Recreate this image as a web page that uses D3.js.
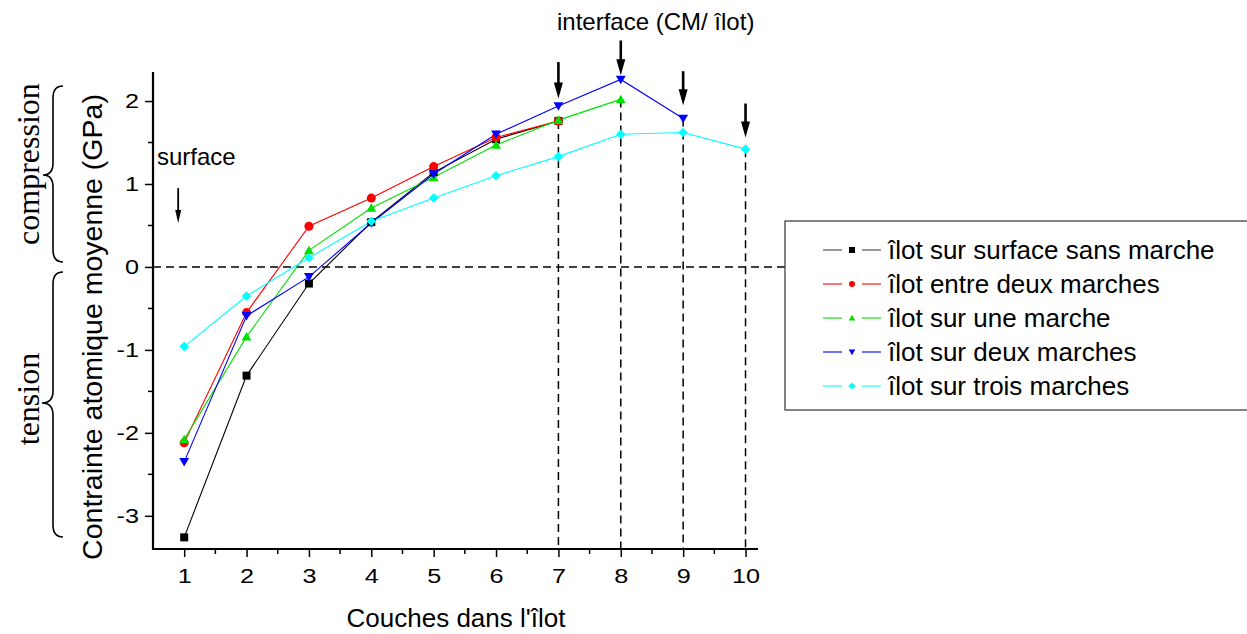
<!DOCTYPE html>
<html><head><meta charset="utf-8">
<script src="https://cdn.jsdelivr.net/npm/d3@7"></script>
<style>
html,body{margin:0;padding:0;background:#fff;}
svg{display:block;}
text{fill:#000;}
</style></head><body>
<svg id="c" width="1247" height="634"></svg>
<script>
// ---- data ----
const layers = [1,2,3,4,5,6,7,8,9,10];
const seriesNames = ["îlot sur surface sans marche","îlot entre deux marches","îlot sur une marche","îlot sur deux marches","îlot sur trois marches"];
const sansMarche   = [-3.26,-1.31,-0.20,0.54,1.14,1.54,1.76];
const entreDeux    = [-2.12,-0.55,0.49,0.83,1.21,1.56,1.76];
const uneMarche    = [-2.08,-0.84,0.20,0.71,1.08,1.47,1.77,2.02];
const deuxMarches  = [-2.35,-0.59,-0.12,0.53,1.12,1.60,1.94,2.26,1.79];
const troisMarches = [-0.96,-0.35,0.11,0.55,0.83,1.10,1.33,1.60,1.62,1.42];
const colors = ["#000000","#ff0000","#00e000","#0000ff","#00ffff"];
const symbols = ["square","circle","triangle","triangleDown","diamond"];
const yTicks = [-3,-2,-1,0,1,2];
const xTicks = [1,2,3,4,5,6,7,8,9,10];
// dashed guide lines (layer, top value)
const guideX = [7,8,9,10];
const guideTop = [1.76,2.02,1.79,1.42];
// arrows (layer, top, tip) in data units
const arrowX = [7,8,9,10];
const arrowTop = [2.47,2.73,2.36,1.97];
const arrowTip = [2.03,2.31,1.95,1.56];
const surfArrow = {x:1, top:0.95, tip:0.53};

const allSeries = [sansMarche,entreDeux,uneMarche,deuxMarches,troisMarches];

const SANS = "Liberation Sans, Arial, sans-serif";
const SERIF = "Liberation Serif, Times New Roman, serif";

const svg = d3.select("#c");
const x = d3.scaleLinear().domain([0.5,10.2]).range([153,758]);
const y = d3.scaleLinear().domain([-3.4,2.35]).range([549,72]);

// zero dashed line
svg.append("line").attr("x1",x(0.5)).attr("x2",785).attr("y1",y(0)).attr("y2",y(0))
  .attr("stroke","#000").attr("stroke-width",1.5).attr("stroke-dasharray","8,5");
// vertical guides
guideX.forEach((g,i)=>{
  svg.append("line").attr("x1",x(g)).attr("x2",x(g)).attr("y1",y(guideTop[i])).attr("y2",y(-3.4))
    .attr("stroke","#000").attr("stroke-width",1.5).attr("stroke-dasharray","8,5");
});

// axes
const fmt = d=>String(d);
const SX = 1.2;
const yAxis = d3.axisLeft(y).tickValues(yTicks).tickSize(8).tickPadding(6).tickFormat(fmt);
const gy = svg.append("g").attr("transform",`translate(${x(0.5)},0)`).call(yAxis);
const yMinor = d3.range(-3.5,2.4,1).filter(v=>v>-3.4);
gy.selectAll(".minor").data(yMinor).enter().append("line").attr("class","minor")
  .attr("x1",-5).attr("x2",0).attr("y1",d=>y(d)).attr("y2",d=>y(d)).attr("stroke","#000").attr("stroke-width",1.5);
const xAxis = d3.axisBottom(x).tickValues(xTicks).tickSize(8).tickPadding(11).tickFormat(fmt);
const gx = svg.append("g").attr("transform",`translate(0,${y(-3.4)})`).call(xAxis);
const xMinor = d3.range(1.5,10.2,1);
gx.selectAll(".minor").data(xMinor).enter().append("line").attr("class","minor")
  .attr("y1",0).attr("y2",5).attr("x1",d=>x(d)).attr("x2",d=>x(d)).attr("stroke","#000").attr("stroke-width",1.5);
[gx,gy].forEach(g=>{
  g.attr("font-family",null).attr("font-size",null);
  g.selectAll(".tick line").attr("stroke","#000").attr("stroke-width",1.5);
  g.selectAll(".tick text").style("font-size","21px").style("font-family",SANS).attr("fill","#000")
    .attr("transform",`scale(${SX},1)`);
  g.select(".domain").remove();
});
gy.selectAll(".tick text").attr("x",-14/SX);
svg.append("line").attr("x1",x(0.5)).attr("x2",x(0.5)).attr("y1",y(2.35)).attr("y2",y(-3.4)+1).attr("stroke","#000").attr("stroke-width",2.2);
svg.append("line").attr("x1",x(0.5)-1).attr("x2",x(10.2)).attr("y1",y(-3.4)).attr("y2",y(-3.4)).attr("stroke","#000").attr("stroke-width",2.2);

// symbols
function sym(type,s){
  const h=s/2;
  switch(type){
    case "square": return `M${-h},${-h}H${h}V${h}H${-h}Z`;
    case "circle": return `M${h},0A${h},${h} 0 1,1 ${-h},0A${h},${h} 0 1,1 ${h},0Z`;
    case "triangle": return `M0,${-h*1.05}L${h*1.1},${h*0.85}L${-h*1.1},${h*0.85}Z`;
    case "triangleDown": return `M0,${h*1.05}L${h*1.1},${-h*0.85}L${-h*1.1},${-h*0.85}Z`;
    case "diamond": return `M0,${-h*1.2}L${h*1.2},0L0,${h*1.2}L${-h*1.2},0Z`;
  }
}
const symSize = {square:8,circle:9,triangle:9,triangleDown:9,diamond:8};

// lines and markers
const line = d3.line().x((d,i)=>x(layers[i])).y(d=>y(d));
allSeries.forEach((s,k)=>{
  svg.append("path").datum(s).attr("d",line).attr("fill","none").attr("stroke",colors[k]).attr("stroke-width",1.1);
});
allSeries.forEach((s,k)=>{
  svg.selectAll(null).data(s).enter().append("path")
    .attr("d",sym(symbols[k],symSize[symbols[k]]))
    .attr("transform",(d,i)=>`translate(${x(layers[i])},${y(d)})`)
    .attr("fill",colors[k]);
});

// arrows
function arrow(xp,y1,y2,shaft,hw,hl){
  svg.append("line").attr("x1",xp).attr("x2",xp).attr("y1",y1).attr("y2",y2-hl+1).attr("stroke","#000").attr("stroke-width",shaft);
  svg.append("path").attr("d",`M${xp-hw/2},${y2-hl} L${xp+hw/2},${y2-hl} L${xp},${y2} Z`).attr("fill","#000");
}
arrow(x(surfArrow.x)-6, y(surfArrow.top), y(surfArrow.tip), 1.8, 6, 13);
arrowX.forEach((a,i)=>arrow(x(a), y(arrowTop[i]), y(arrowTip[i]), 2.6, 9, 16));

// annotation texts
svg.append("text").attr("x",157).attr("y",165).style("font-family",SANS).style("font-size","24px").text("surface");
svg.append("text").attr("x",557).attr("y",30).style("font-family",SANS).style("font-size","24px").text("interface (CM/ îlot)");

// axis titles
svg.append("text").attr("x",456).attr("y",627).attr("text-anchor","middle").style("font-family",SANS).style("font-size","26px").text("Couches dans l'îlot");
svg.append("text").attr("transform","translate(102,327) rotate(-90)").attr("text-anchor","middle").style("font-family",SANS).style("font-size","28.5px")
  .text("Contrainte atomique moyenne (GPa)");

// braces + serif labels
function brace(xEnd,xSpine,xTip,yTop,yBot,yTip){
  const r=12;
  const d=`M${xEnd},${yTop} Q${xSpine},${yTop} ${xSpine},${yTop+r} L${xSpine},${yTip-r} Q${xSpine},${yTip} ${xTip},${yTip} Q${xSpine},${yTip} ${xSpine},${yTip+r} L${xSpine},${yBot-r} Q${xSpine},${yBot} ${xEnd},${yBot}`;
  svg.append("path").attr("d",d).attr("fill","none").attr("stroke","#000").attr("stroke-width",1.6);
}
brace(63,53,43,86,262,175);
brace(63,53,42,272,537,403);
svg.append("text").attr("transform","translate(39,164) rotate(-90)").attr("text-anchor","middle")
  .style("font-family",SERIF).style("font-size","32px").text("compression");
svg.append("text").attr("transform","translate(39,399) rotate(-90)").attr("text-anchor","middle")
  .style("font-family",SERIF).style("font-size","32px").text("tension");

// legend
svg.append("rect").attr("x",785).attr("y",221).attr("width",480).attr("height",189)
  .attr("fill","#fff").attr("stroke","#333").attr("stroke-width",1.2);
const legY = [250,284,318,352,386];
seriesNames.forEach((n,k)=>{
  const g = svg.append("g").attr("transform",`translate(0,${legY[k]})`);
  const lc = k===0?"#444":colors[k];
  g.append("line").attr("x1",823).attr("x2",842).attr("y1",0).attr("y2",0).attr("stroke",lc).attr("stroke-width",1.1);
  g.append("line").attr("x1",862).attr("x2",881).attr("y1",0).attr("y2",0).attr("stroke",lc).attr("stroke-width",1.1);
  g.append("path").attr("d",sym(symbols[k],6)).attr("transform",`translate(852,0)`).attr("fill",colors[k]);
  g.append("text").attr("x",888).attr("y",9).style("font-family",SANS).style("font-size","26px").text(n);
});
</script>
</body></html>
